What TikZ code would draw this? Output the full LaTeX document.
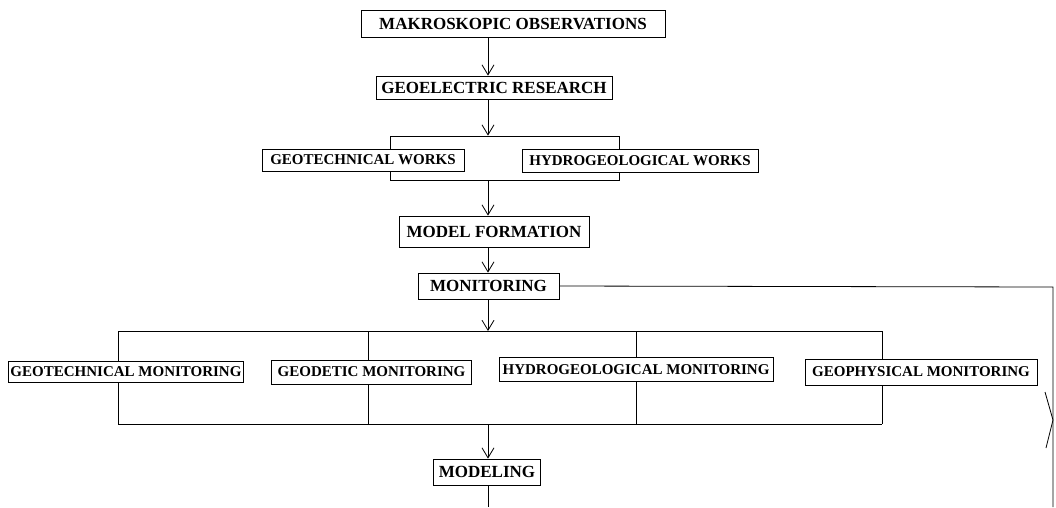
\documentclass[tikz,border=0pt]{standalone}
\usepackage{fontspec}
\setmainfont{Liberation Serif}
\usepackage{tikz}
\usetikzlibrary{arrows.meta}
\usetikzlibrary{positioning}
\tikzstyle{arrow} = [thick,-{Straight Barb[length=10pt,width=12pt]}]
\tikzstyle{line} = [thick]
\tikzstyle{stage} = [
    rectangle, draw=black, thick, fill=white, inner sep=0pt,
    font=\fontsize{17}{20}\selectfont\bfseries]
\tikzstyle{branch} = [
    rectangle, draw=black, thick, fill=white, inner sep=0pt,
    font=\fontsize{15}{18}\selectfont\bfseries]

\begin{document}
\begin{tikzpicture}[x=1pt,y=-1pt]
\useasboundingbox (0,0) rectangle (1056,507);
\coordinate (spine) at (488,0);

\node (makro) [stage, minimum width=304pt, minimum height=27pt] at (513,23.5) {MAKROSKOPIC OBSERVATIONS};
\node (geoel) [stage, minimum width=236pt, minimum height=23pt] at (494,87.5) {GEOELECTRIC RESEARCH};

% frame behind the two works
\node (frame) [rectangle, draw=black, thick, minimum width=229pt, minimum height=44pt] at (504.5,158) {};
\node (geotw) [branch, minimum width=202pt, minimum height=22pt] at (363,160) {GEOTECHNICAL WORKS};
\node (hydrow) [branch, minimum width=236pt, minimum height=23pt] at (640,161) {HYDROGEOLOGICAL WORKS};

\node (model) [stage, minimum width=190pt, minimum height=31pt] at (494,231.5) {MODEL FORMATION};
\node (monit) [stage, minimum width=141pt, minimum height=26pt] at (488.5,286) {MONITORING};

\node (geotm) [branch, minimum width=235pt, minimum height=21pt] at (126,371.5) {GEOTECHNICAL MONITORING};
\node (geodm) [branch, minimum width=200pt, minimum height=24pt] at (371.5,372) {GEODETIC MONITORING};
\node (hydrom) [branch, minimum width=274pt, minimum height=24pt] at (636,369.5) {HYDROGEOLOGICAL MONITORING};
\node (geophm) [branch, minimum width=232pt, minimum height=26pt] at (921,372) {GEOPHYSICAL MONITORING};

\node (modeling) [stage, minimum width=107pt, minimum height=26pt] at (487,472) {MODELING};

\draw [arrow] (makro.south -| spine) -- (geoel.north -| spine);
\draw [arrow] (geoel.south -| spine) -- (frame.north -| spine);
\draw [arrow] (frame.south -| spine) -- (model.north -| spine);
\draw [arrow] (model.south -| spine) -- (monit.north -| spine);

% buses
\coordinate (topbus) at (0,331);
\coordinate (botbus) at (0,424);
\draw [arrow] (monit.south -| spine) -- (topbus -| spine);
\draw [line] (118,331) coordinate (topl) -- (882,331) coordinate (topr);
\draw [line] (118,424) coordinate (botl) -- (882,424) coordinate (botr);
\foreach \n/\x in {geotm/118, geodm/368, hydrom/636, geophm/882} {
    \coordinate (up\n) at (\x,331);
    \coordinate (dn\n) at (\x,424);
    \draw [line] (up\n) -- (up\n |- \n.north);
    \draw [line] (\n.south -| dn\n) -- (dn\n);
}

\draw [arrow] (botbus -| spine) -- (modeling.north -| spine);
\coordinate (exit) at (488,507);
\draw [line] (modeling.south -| spine) -- (exit);

% feedback line on the right
\coordinate (fbcorner) at (1053,287);
\coordinate (fbend) at (1053,507);
\draw [line] (monit.east) -- (fbcorner) -- (fbend);
\draw [line] (1045,392) -- (1053,420) -- (1046,448);
\end{tikzpicture}
\end{document}
